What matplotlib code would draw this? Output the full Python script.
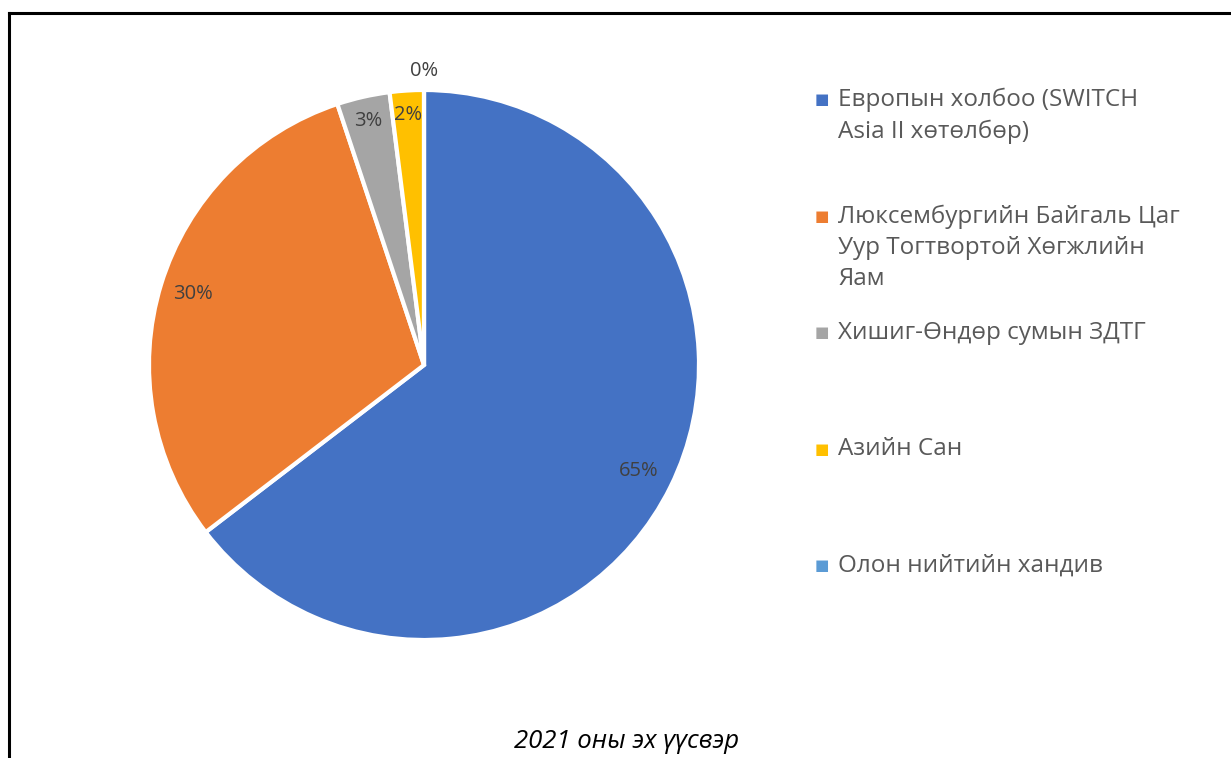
import numpy as np
import matplotlib
matplotlib.use('Agg')
import matplotlib.pyplot as plt
from matplotlib.lines import Line2D

plt.rcParams['font.family'] = ['Open Sans', 'DejaVu Sans']

# data
labels = ['Европын холбоо (SWITCH\nAsia II хөтөлбөр)',
          'Люксембургийн Байгаль Цаг\nУур Тогтвортой Хөгжлийн\nЯам',
          'Хишиг-Өндөр сумын ЗДТГ',
          'Азийн Сан',
          'Олон нийтийн хандив']
values = [64.6, 30.3, 3.1, 2.0, 0.0]
colors = ['#4472C4', '#ED7D31', '#A5A5A5', '#FFC000', '#5B9BD5']
title = '2021 оны эх үүсвэр'

W, H = 1231, 758
fig = plt.figure(figsize=(W / 100, H / 100), dpi=100)

# pie axes, centre (424,365) px, radius 275 px
cx, cy, r = 424, 365, 275
ax = fig.add_axes([(cx - r) / W, (H - cy - r) / H, 2 * r / W, 2 * r / H])
wedges, _ = ax.pie(values, colors=colors, startangle=90, counterclock=False,
                   radius=1, wedgeprops=dict(edgecolor='white', linewidth=3))
ax.set_xlim(-1, 1)
ax.set_ylim(-1, 1)
ax.set_aspect('equal')
ax.axis('off')

# percentage labels
dist = [0.87, 0.88, 0.91, 0.91, 1.07]
total = sum(values)
for w, v, d in zip(wedges, values, dist):
    ang = np.deg2rad((w.theta1 + w.theta2) / 2)
    ax.text(d * np.cos(ang), d * np.sin(ang), '%d%%' % round(v / total * 100),
            ha='center', va='center', fontsize=14.5, color='#404040')

# legend, entries placed in evenly spaced slots
for i, (lab, col) in enumerate(zip(labels, colors)):
    y = 100 + i * 116.5
    fig.text(822 / W, 1 - y / H, '\u25A0', color=col, fontsize=11,
             ha='center', va='center', family='DejaVu Sans')
    fig.text(838 / W, 1 - (y - 12) / H, lab, color='#595959', fontsize=17.5,
             ha='left', va='top', linespacing=1.38)

# caption
fig.text(627 / W, 1 - 741 / H, title, ha='center', va='center',
         fontsize=18.5, style='italic', color='black')

# frame lines (top and left)
fig.add_artist(Line2D([8.5 / W, 1], [1 - 12.5 / H, 1 - 12.5 / H],
                      color='black', linewidth=2.2, transform=fig.transFigure))
fig.add_artist(Line2D([8.5 / W, 8.5 / W], [0, 1 - 12.5 / H],
                      color='black', linewidth=2.2, transform=fig.transFigure))

fig.savefig('out.png', dpi=100, facecolor='white')
